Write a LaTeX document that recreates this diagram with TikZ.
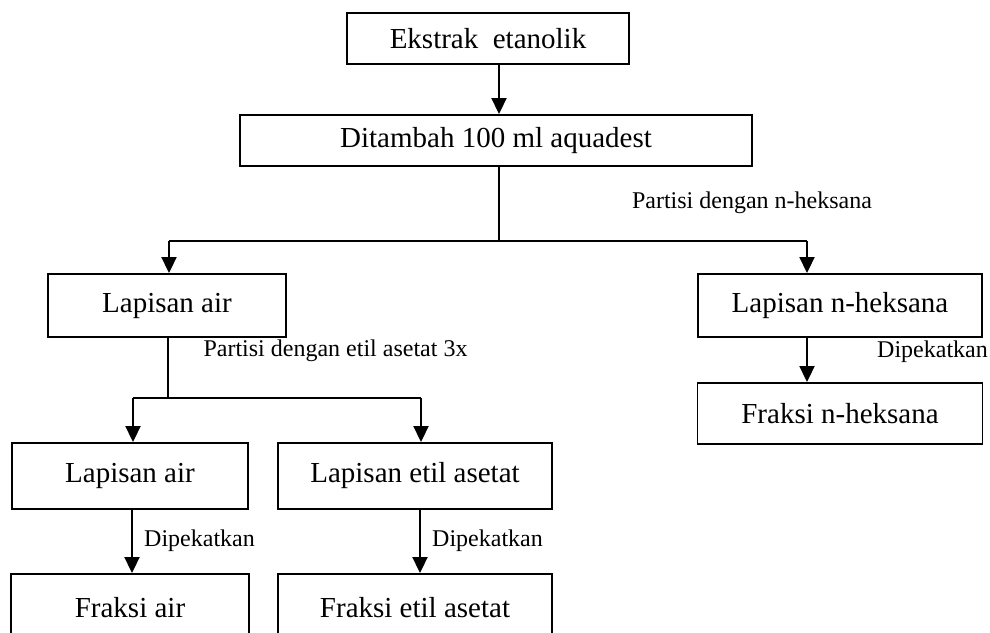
\documentclass[tikz,border=0pt]{standalone}
\usepackage{fontspec}
\setmainfont{Liberation Serif}
\usetikzlibrary{arrows.meta}
\begin{document}
\begin{tikzpicture}[x=1pt,y=-1pt,
  box/.style={draw,line width=1.9pt,rectangle,inner sep=0pt,font=\fontsize{29}{32}\selectfont},
  lbl/.style={inner sep=0pt,font=\fontsize{24}{27}\selectfont},
  conn/.style={line width=1.9pt},
  arr/.style={line width=1.9pt,-{Triangle[length=16pt,width=15pt]}}]
\useasboundingbox (0,0) rectangle (990,632);
\clip (0,0) rectangle (990,632);
% boxes
\node[box,minimum width=282pt,minimum height=51pt] (ek) at (488,38.5) {Ekstrak~ etanolik};
\node[box,minimum width=512pt,minimum height=51pt] (dt) at (496,140.5) {Ditambah 100 ml aquadest};
\node[box,minimum width=238pt,minimum height=63pt] (la1) at (167,305.5) {Lapisan air};
\node[box,minimum width=284pt,minimum height=63pt] (lh) at (840,305.5) {Lapisan n-heksana};
\node[box,minimum width=285pt,minimum height=61pt] (fh) at (840,413.5) {Fraksi n-heksana};
\node[box,minimum width=236pt,minimum height=66pt] (la2) at (130,476) {Lapisan air};
\node[box,minimum width=274pt,minimum height=66pt] (le) at (415,476) {Lapisan etil asetat};
\node[box,minimum width=238pt,minimum height=68pt] (fa) at (130,608) {Fraksi air};
\node[box,minimum width=274pt,minimum height=68pt] (fe) at (415,608) {Fraksi etil asetat};
% labels
\node[lbl] (p1) at (752,203) {Partisi dengan n-heksana};
\node[lbl] (p2) at (335.5,351) {Partisi dengan etil asetat 3x};
\node[lbl] (d1) at (199.5,541) {Dipekatkan};
\node[lbl] (d2) at (487.5,541) {Dipekatkan};
\node[lbl] (d3) at (932.5,352) {Dipekatkan};
% helper coordinates
\coordinate (xa) at (499,0);
\coordinate (j1) at (499,241);
\coordinate (j1l) at (169,241);
\coordinate (j1r) at (807,241);
\coordinate (xb) at (168,0);
\coordinate (j2) at (168,398);
\coordinate (j2l) at (133,398);
\coordinate (j2r) at (421,398);
\coordinate (xc) at (132,0);
\coordinate (xd) at (420,0);
% connectors
\draw[arr] (ek.south -| xa) -- (dt.north -| xa);
\draw[conn] (dt.south -| xa) -- (j1);
\draw[conn] (j1l) -- (j1r);
\draw[arr] (j1l) -- (la1.north -| j1l);
\draw[arr] (j1r) -- (lh.north -| j1r);
\draw[arr] (lh.south -| j1r) -- (fh.north -| j1r);
\draw[conn] (la1.south -| xb) -- (j2);
\draw[conn] (j2l) -- (j2r);
\draw[arr] (j2l) -- (la2.north -| j2l);
\draw[arr] (j2r) -- (le.north -| j2r);
\draw[arr] (la2.south -| xc) -- (fa.north -| xc);
\draw[arr] (le.south -| xd) -- (fe.north -| xd);
\end{tikzpicture}
\end{document}
